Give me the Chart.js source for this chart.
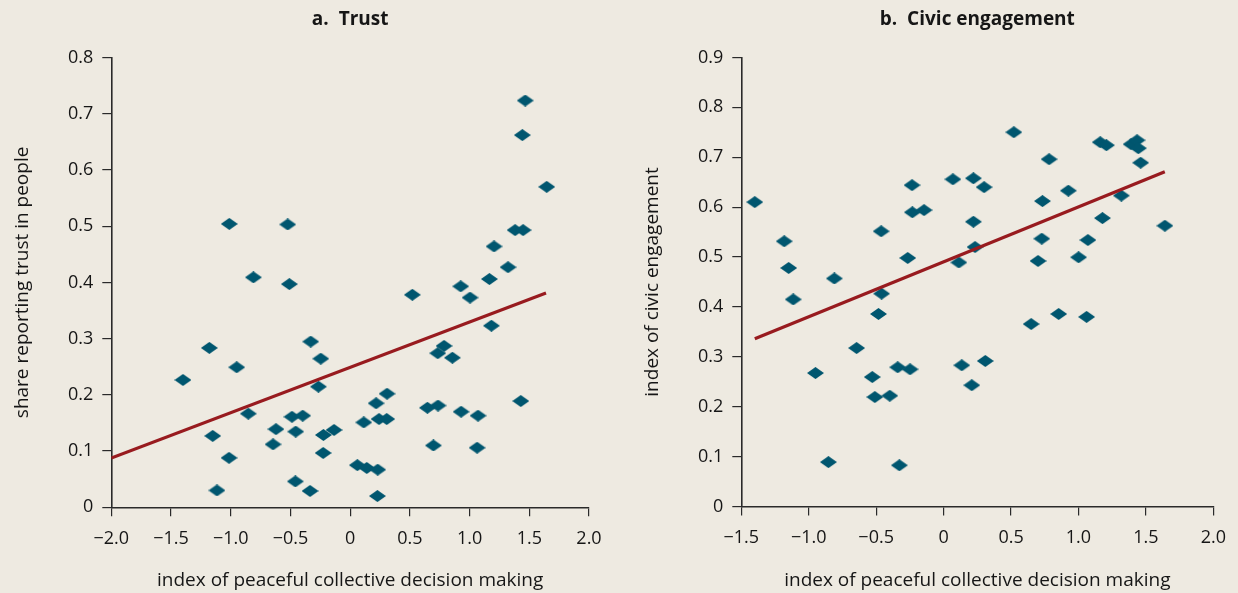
<!DOCTYPE html>
<html>
<head>
<meta charset="utf-8">
<script src="https://cdn.jsdelivr.net/npm/chart.js@4.4.1/dist/chart.umd.min.js"></script>
<style>
  html, body { margin:0; padding:0; background:#EEEAE1; }
  body { width:1238px; height:593px; position:relative; overflow:hidden; }
  canvas { position:absolute; top:0; }
  #trustChart { left:0; }
  #civicChart { left:620px; }
</style>
</head>
<body>
<canvas id="trustChart" width="620" height="593"></canvas>
<canvas id="civicChart" width="618" height="593"></canvas>
<script>
// panel a: trust
const trustX = [-1.012,-0.523,-0.81,-0.509,1.466,1.442,1.646,1.381,1.448,1.205,1.322,1.166,
  0.521,0.926,1.004,1.183,0.786,0.734,0.856,0.309,0.217,0.114,0.242,0.306,0.647,0.736,0.929,1.071,1.429,
  0.697,1.063,0.06,0.139,0.231,0.228,
  -1.40,-1.179,-0.950,-0.853,-1.151,-1.014,-1.115,-0.330,-0.246,-0.266,-0.487,-0.397,-0.621,-0.456,-0.646,
  -0.224,-0.135,-0.226,-0.459,-0.336];
const trustY = [0.504,0.503,0.409,0.397,0.7235,0.662,0.570,0.493,0.493,0.464,0.427,0.406,
  0.378,0.393,0.373,0.323,0.287,0.274,0.266,0.202,0.185,0.151,0.157,0.157,0.177,0.181,0.170,0.163,0.189,
  0.110,0.106,0.075,0.070,0.067,0.020,
  0.2265,0.2835,0.249,0.1666,0.127,0.088,0.030,0.2947,0.2644,0.2146,0.161,0.163,0.139,0.1346,0.112,
  0.1287,0.1375,0.0966,0.046,0.029];
const trustFitX = [-2.0, 1.64];
const trustFitY = [0.0875, 0.381];

// panel b: civic engagement
const civicX = [-1.400,-1.182,-1.149,-0.810,-0.463,-0.234,-0.232,-0.145,-0.266,0.113,0.069,0.221,0.221,0.233,
  0.300,0.521,0.782,0.925,0.733,1.178,1.318,1.161,1.207,1.390,1.434,1.444,1.461,1.641,0.728,1.070,0.700,1.001,
  -1.115,-0.46,-0.483,-0.645,-0.950,-0.529,-0.340,-0.249,-0.510,-0.399,0.135,0.209,-0.854,-0.328,
  0.309,0.649,0.853,1.060];
const civicY = [0.610,0.5315,0.478,0.457,0.5515,0.644,0.5896,0.594,0.498,0.489,0.6557,0.6577,0.5707,0.520,
  0.640,0.750,0.696,0.633,0.612,0.578,0.623,0.730,0.724,0.726,0.734,0.718,0.689,0.5627,0.5367,0.534,0.492,0.4994,
  0.415,0.4265,0.3858,0.3176,0.2675,0.2595,0.279,0.275,0.2194,0.222,0.283,0.243,0.089,0.0826,
  0.2916,0.3657,0.3858,0.380];
const civicFitX = [-1.40, 1.64];
const civicFitY = [0.336, 0.671];

const xTitle = "index of peaceful collective decision making";

const DOT = "#00566F", FIT = "#981B1F", INK = "#161616", AXIS = "#2a2a2a";
const FONT = "Open Sans";

// flattened diamond marker
function diamond(w, h){
  const c = document.createElement("canvas");
  c.width = w; c.height = h;
  const g = c.getContext("2d");
  g.fillStyle = DOT;
  g.beginPath();
  g.moveTo(w/2, 0); g.lineTo(w, h/2); g.lineTo(w/2, h); g.lineTo(0, h/2);
  g.closePath(); g.fill();
  return c;
}
const marker = diamond(17, 12);

const fmt = v => v === 0 ? "0" : v.toFixed(1).replace("-", "\u2212");
const pts = (xs, ys) => xs.map((x, i) => ({ x, y: ys[i] }));

function makeChart(id, cfg){
  new Chart(document.getElementById(id), {
    type: "scatter",
    data: {
      datasets: [
        { data: pts(cfg.fitX, cfg.fitY), showLine: true, borderColor: FIT, borderWidth: 3.2,
          pointRadius: 0, fill: false, order: 0 },
        { data: pts(cfg.xs, cfg.ys), pointStyle: marker, pointRadius: 8, pointHoverRadius: 8, order: 1 }
      ]
    },
    options: {
      responsive: false, animation: false, devicePixelRatio: 1,
      layout: { padding: { left: 0, right: cfg.padRight, top: 0, bottom: 0 } },
      plugins: {
        legend: { display: false }, tooltip: { enabled: false },
        title: { display: true, fullSize: false, text: cfg.title, color: INK,
          font: { family: FONT, size: 19, weight: "bold" }, padding: { top: 8, bottom: cfg.top - 8 - 22.8 } }
      },
      scales: {
        x: {
          type: "linear", min: cfg.xMin, max: 2.0,
          afterFit: s => { s.height = 593 - cfg.bottom; },
          ticks: { stepSize: 0.5, color: INK, padding: 12, font: { family: FONT, size: 18 }, callback: fmt },
          grid: { drawOnChartArea: false, drawTicks: true, tickLength: 9, color: AXIS, lineWidth: 1.2 },
          border: { display: true, color: AXIS, width: 1.6 },
          title: { display: true, text: xTitle, color: INK, font: { family: FONT, size: 19 }, padding: { top: 0, bottom: 1 } }
        },
        y: {
          type: "linear", min: 0, max: cfg.yMax,
          afterFit: s => { s.width = cfg.left; },
          ticks: { stepSize: 0.1, color: INK, padding: 9, font: { family: FONT, size: 18 }, callback: fmt },
          grid: { drawOnChartArea: false, drawTicks: true, tickLength: 9, color: AXIS, lineWidth: 1.2 },
          border: { display: true, color: AXIS, width: 1.6 },
          title: { display: true, text: cfg.yTitle, color: INK, font: { family: FONT, size: 19 }, padding: { top: cfg.yTitlePad, bottom: 0 } }
        }
      }
    }
  });
}

makeChart("trustChart", {
  title: "a.  Trust", yTitle: "share reporting trust in people",
  xs: trustX, ys: trustY, fitX: trustFitX, fitY: trustFitY,
  xMin: -2.0, yMax: 0.8, left: 111.3, padRight: 31, top: 57.5, bottom: 507.3, yTitlePad: 11.4
});
makeChart("civicChart", {
  title: "b.  Civic engagement", yTitle: "index of civic engagement",
  xs: civicX, ys: civicY, fitX: civicFitX, fitY: civicFitY,
  xMin: -1.5, yMax: 0.9, left: 121.3, padRight: 22.3, top: 57.4, bottom: 506.5, yTitlePad: 21.4
});
</script>
</body>
</html>
